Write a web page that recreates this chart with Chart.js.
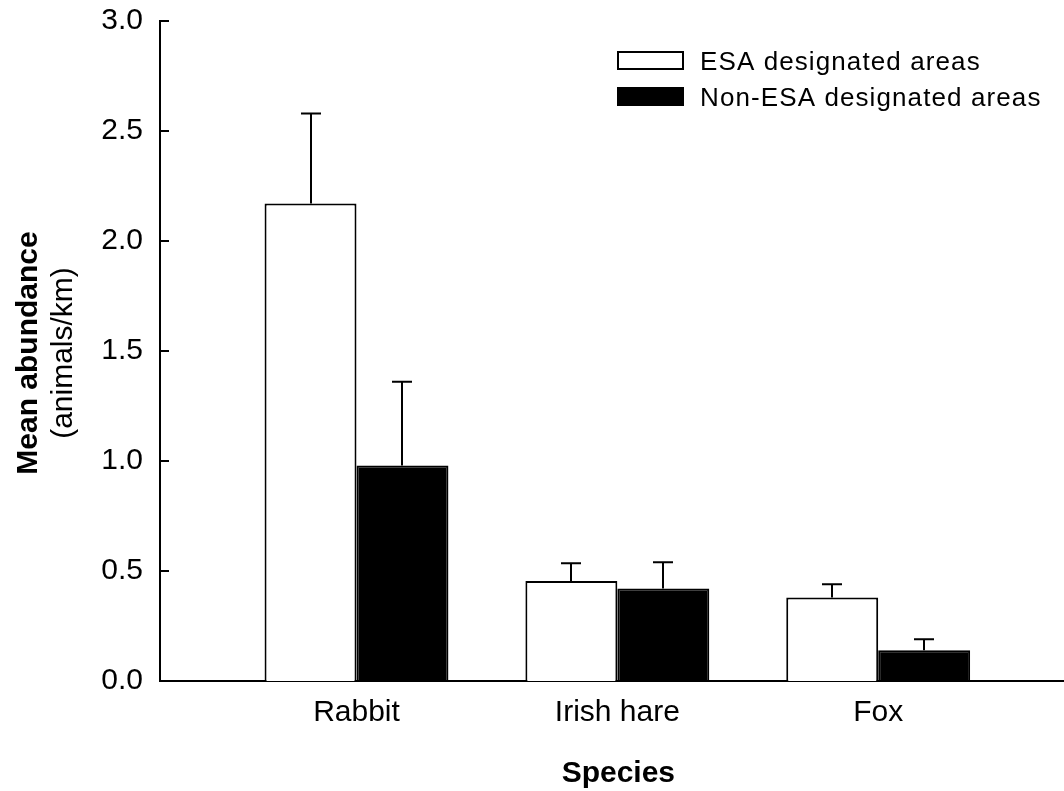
<!DOCTYPE html>
<html>
<head>
<meta charset="utf-8">
<title>Mean abundance by species</title>
<script src="https://cdn.jsdelivr.net/npm/chart.js@4/dist/chart.umd.min.js"></script>
<style>
  html, body { margin: 0; padding: 0; background: #fff; }
  #wrap { width: 1064px; height: 791px; }
</style>
</head>
<body>
<div id="wrap"><canvas id="chart" width="1064" height="791"></canvas></div>
<script>
// Species surveyed, with mean abundance (animals/km) and standard error per area type
const categories = ['Rabbit', 'Irish hare', 'Fox'];
const esaMeans = [2.17, 0.455, 0.38];
const esaErrors = [0.41, 0.08, 0.06];
const nonEsaMeans = [0.98, 0.42, 0.14];
const nonEsaErrors = [0.38, 0.12, 0.05];
const seriesLabels = ['ESA designated areas', 'Non-ESA designated areas'];
const yTickStep = 0.5;
const yMin = 0;
const yMax = 3;
const yTitle = 'Mean abundance';
const ySubtitle = '(animals/km)';
const xTitle = 'Species';

const FONT = '"Liberation Sans", Arial, Helvetica, sans-serif';
const positions = categories.map((_, i) => i + 1);

// Upward standard-error whiskers with caps
const errorBars = {
  id: 'errorBars',
  afterDatasetsDraw(chart) {
    const ctx = chart.ctx;
    const yScale = chart.scales.y;
    ctx.save();
    ctx.strokeStyle = '#000';
    ctx.lineWidth = 2;
    chart.data.datasets.forEach((ds, di) => {
      const meta = chart.getDatasetMeta(di);
      meta.data.forEach((bar, i) => {
        const top = yScale.getPixelForValue(ds.data[i].y + ds.errors[i]);
        const x = Math.round(bar.x);
        ctx.beginPath();
        ctx.moveTo(x, bar.y);
        ctx.lineTo(x, top);
        ctx.moveTo(x - 10, top);
        ctx.lineTo(x + 10, top);
        ctx.stroke();
      });
    });
    ctx.restore();
  }
};

// Inward tick marks, axis titles and the legend box
const decorations = {
  id: 'decorations',
  afterDraw(chart) {
    const ctx = chart.ctx;
    const yScale = chart.scales.y;
    const xScale = chart.scales.x;
    const area = chart.chartArea;
    ctx.save();
    ctx.strokeStyle = '#000';
    ctx.fillStyle = '#000';
    ctx.lineWidth = 2;
    yScale.ticks.forEach(t => {
      const y = Math.round(yScale.getPixelForValue(t.value));
      ctx.beginPath();
      ctx.moveTo(area.left, y);
      ctx.lineTo(area.left + 9, y);
      ctx.stroke();
    });

    // y-axis title, two lines
    const yMid = (area.top + area.bottom) / 2 + 2;
    ctx.textAlign = 'center';
    ctx.textBaseline = 'alphabetic';
    ctx.save();
    ctx.translate(37, yMid);
    ctx.rotate(-Math.PI / 2);
    ctx.font = 'bold 30px ' + FONT;
    ctx.fillText(yTitle, 0, 0);
    ctx.restore();
    ctx.save();
    ctx.translate(72, yMid);
    ctx.rotate(-Math.PI / 2);
    ctx.font = '30px ' + FONT;
    ctx.fillText(ySubtitle, 0, 0);
    ctx.restore();

    // x-axis title, centred under the categories
    const first = xScale.getPixelForValue(positions[0]);
    const last = xScale.getPixelForValue(positions[positions.length - 1]);
    ctx.font = 'bold 30px ' + FONT;
    ctx.fillText(xTitle, (first + last) / 2 + 1, 782);

    // legend
    ctx.textAlign = 'left';
    ctx.font = '26px ' + FONT;
    if ('letterSpacing' in ctx) ctx.letterSpacing = '1.1px';
    chart.data.datasets.forEach((ds, i) => {
      const top = 51 + i * 36;
      ctx.fillStyle = ds.backgroundColor;
      ctx.fillRect(617, top, 67, 19);
      ctx.strokeStyle = ds.borderColor;
      ctx.strokeRect(618, top + 1, 65, 17);
      ctx.fillStyle = '#000';
      ctx.fillText(ds.label, 700, top + 19);
    });
    ctx.restore();
  }
};

const toPoints = arr => arr.map((v, i) => ({ x: positions[i], y: v }));

new Chart(document.getElementById('chart'), {
  type: 'bar',
  data: {
    datasets: [
      {
        label: seriesLabels[0],
        data: toPoints(esaMeans),
        errors: esaErrors,
        backgroundColor: '#ffffff',
        borderColor: '#000000',
        borderWidth: 2
      },
      {
        label: seriesLabels[1],
        data: toPoints(nonEsaMeans),
        errors: nonEsaErrors,
        backgroundColor: '#000000',
        borderColor: '#000000',
        borderWidth: 2
      }
    ]
  },
  options: {
    responsive: false,
    animation: false,
    events: [],
    categoryPercentage: 0.705,
    barPercentage: 1,
    layout: { padding: { top: 21, right: 0, bottom: 0, left: 0 } },
    plugins: {
      legend: { display: false },
      tooltip: { enabled: false },
      title: { display: false }
    },
    scales: {
      x: {
        type: 'linear',
        offset: false,
        min: 0.2467,
        max: 3.7123,
        grid: { display: false, drawTicks: false, offset: false },
        border: { display: true, color: '#000', width: 2 },
        afterBuildTicks: scale => { scale.ticks = positions.map(v => ({ value: v })); },
        afterFit: scale => { scale.height = 110; scale.paddingLeft = 0; scale.paddingRight = 0; },
        ticks: {
          color: '#000',
          padding: 14,
          maxRotation: 0,
          autoSkip: false,
          font: { family: FONT, size: 30 },
          callback: (value, index) => categories[index]
        }
      },
      y: {
        min: yMin,
        max: yMax,
        grid: { display: false, drawTicks: false },
        border: { display: true, color: '#000', width: 2 },
        afterFit: scale => { scale.width = 160; scale.paddingTop = 0; scale.paddingBottom = 0; },
        ticks: {
          stepSize: yTickStep,
          color: '#000',
          padding: 17,
          font: { family: FONT, size: 30 },
          callback: v => Number(v).toFixed(1)
        }
      }
    }
  },
  plugins: [errorBars, decorations]
});
</script>
</body>
</html>
